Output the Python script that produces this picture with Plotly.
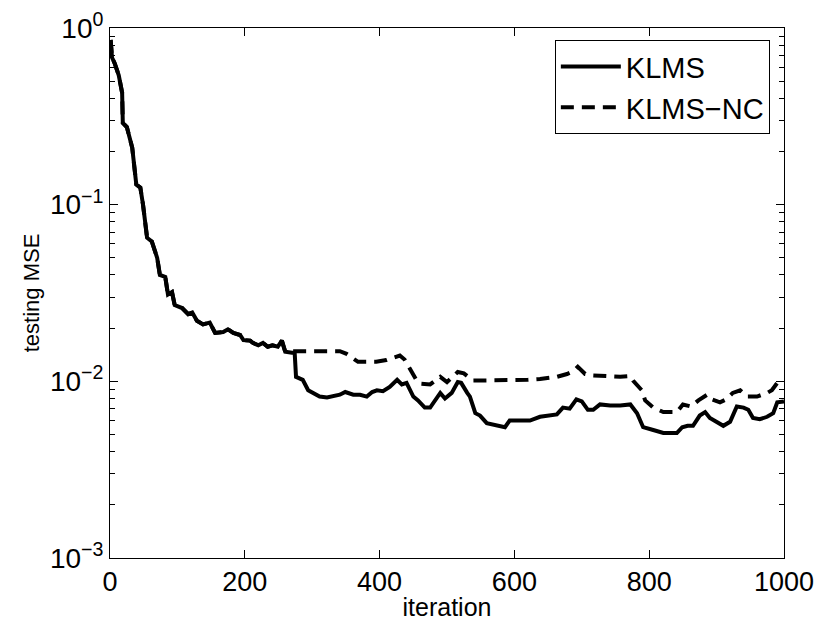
import plotly.graph_objects as go

# ---- data ----
klms_iter = [1, 3, 7, 13, 18, 19, 25, 33, 39, 45, 49, 55, 62, 70, 74, 82, 86, 92, 96, 107,
             116, 122, 129, 138, 148, 156, 168, 175, 183, 193, 198, 208, 212, 220, 227, 234,
             241, 249, 255, 260, 270, 274, 276, 286, 294, 301, 311, 322, 331, 341, 349, 361,
             371, 381, 389, 396, 405, 415, 426, 433, 440, 450, 457, 467, 475, 482, 490, 497,
             507, 516, 521, 530, 534, 542, 549, 559, 574, 586, 593, 608, 623, 638, 653, 663,
             672, 682, 692, 700, 709, 717, 727, 742, 757, 772, 782, 791, 806, 821, 841, 849,
             857, 865, 875, 883, 890, 900, 910, 920, 930, 940, 947, 954, 964, 975, 984, 990, 1000]
klms_mse = [0.855, 0.68, 0.63, 0.54, 0.43, 0.29, 0.275, 0.21, 0.13, 0.125, 0.10, 0.065, 0.062,
            0.050, 0.040, 0.039, 0.031, 0.032, 0.027, 0.026,
            0.024, 0.0245, 0.022, 0.021, 0.0215, 0.0188, 0.019, 0.0197, 0.0188, 0.0183, 0.0171,
            0.0170, 0.0165, 0.0160, 0.0165, 0.0157,
            0.0160, 0.0157, 0.0170, 0.0147, 0.0145, 0.0145, 0.0106, 0.0102, 0.0089, 0.0086,
            0.0082, 0.0081, 0.0082, 0.0084, 0.0087, 0.0084,
            0.0084, 0.0082, 0.0087, 0.0089, 0.0088, 0.0093, 0.0102, 0.0096, 0.0098, 0.0082,
            0.0078, 0.0071, 0.0071, 0.0078, 0.0086, 0.0080,
            0.0086, 0.0099, 0.0098, 0.0086, 0.0082, 0.0066, 0.0064, 0.0058, 0.0056, 0.0055,
            0.0060, 0.0060, 0.0060, 0.0063, 0.0064, 0.0065,
            0.0071, 0.0070, 0.0079, 0.0077, 0.0069, 0.0069, 0.0074, 0.0073, 0.0073, 0.0074,
            0.0066, 0.0055, 0.0053, 0.0051, 0.0051, 0.0055,
            0.0056, 0.0056, 0.0064, 0.0067, 0.0062, 0.0059, 0.0056, 0.0059, 0.0072, 0.0071,
            0.0069, 0.0062, 0.0061, 0.0063, 0.0066, 0.0076, 0.0077]

nc_iter = [1, 3, 7, 13, 18, 19, 25, 33, 39, 45, 49, 55, 62, 70, 74, 82, 86, 92, 96, 107,
           116, 122, 129, 138, 148, 156, 168, 175, 183, 193, 198, 208, 212, 220, 227, 234,
           241, 249, 255, 260, 270, 274, 300, 341, 351, 368, 381, 395, 410, 420, 430, 437,
           448, 455, 460, 475, 490, 500, 516, 525, 539, 560, 590, 608, 620, 638, 663, 678,
           687, 694, 705, 717, 740, 757, 772, 776, 789, 794, 806, 821, 841, 850, 862, 873,
           886, 893, 905, 914, 924, 935, 945, 960, 975, 982, 990, 1000]
nc_mse = [0.855, 0.68, 0.63, 0.54, 0.43, 0.29, 0.275, 0.21, 0.13, 0.125, 0.10, 0.065, 0.062,
          0.050, 0.040, 0.039, 0.031, 0.032, 0.027, 0.026,
          0.024, 0.0245, 0.022, 0.021, 0.0215, 0.0188, 0.019, 0.0197, 0.0188, 0.0183, 0.0171,
          0.0170, 0.0165, 0.0160, 0.0165, 0.0157,
          0.0160, 0.0157, 0.0170, 0.0147, 0.0148, 0.0148, 0.0148, 0.0148, 0.0143, 0.0129,
          0.0129, 0.0129, 0.0132, 0.0136, 0.0140, 0.0133,
          0.0114, 0.0101, 0.0097, 0.0096, 0.0106, 0.0099, 0.0113, 0.0111, 0.0101, 0.0101,
          0.0101, 0.0101, 0.0102, 0.0103, 0.0106, 0.0110,
          0.0114, 0.0121, 0.0110, 0.0108, 0.0107, 0.0106, 0.0107, 0.0101, 0.0089, 0.0078,
          0.0071, 0.0067, 0.0067, 0.0074, 0.0072, 0.0078,
          0.0084, 0.0079, 0.0076, 0.0079, 0.0086, 0.0089, 0.0082, 0.0082, 0.0086, 0.0089,
          0.0098, 0.0101]

x_ticks = [0, 200, 400, 600, 800, 1000]
y_exponents = [-3, -2, -1, 0]

FONT = "Liberation Sans, Arial, sans-serif"

fig = go.Figure()
fig.add_trace(go.Scatter(x=klms_iter, y=klms_mse, mode="lines", name="KLMS",
                         line=dict(color="black", width=4)))
fig.add_trace(go.Scatter(x=nc_iter, y=nc_mse, mode="lines", name="KLMS\u2212NC",
                         line=dict(color="black", width=4, dash="13px,8px")))

minor_vals = [m * 10 ** e for e in y_exponents[:-1] for m in range(2, 10)]

fig.update_layout(
    width=820, height=630,
    margin=dict(l=110, r=36, t=28, b=72),
    paper_bgcolor="white", plot_bgcolor="white",
    font=dict(family=FONT, color="black", size=26),
    showlegend=True,
    legend=dict(x=0.979, y=0.977, xanchor="right", yanchor="top",
                bgcolor="white", bordercolor="black", borderwidth=1,
                font=dict(family=FONT, size=29), tracegroupgap=0,
                itemwidth=60),
    xaxis=dict(range=[0, 1000], tickvals=x_ticks, ticktext=[str(v) for v in x_ticks],
               ticks="inside", ticklen=8, tickwidth=1, tickcolor="black",
               showline=True, linecolor="black", linewidth=1, mirror="allticks",
               showgrid=False, zeroline=False, automargin=False,
               tickfont=dict(family=FONT, size=27),
               title=dict(text="iteration", font=dict(family=FONT, size=25), standoff=2)),
    yaxis=dict(type="log", range=[-3, 0],
               tickvals=[10 ** e for e in y_exponents],
               ticktext=["10<sup>%d</sup>" % e if e == 0 else "10<sup>\u2212%d</sup>" % (-e) for e in y_exponents],
               ticks="inside", ticklen=8, tickwidth=1, tickcolor="black",
               minor=dict(tickvals=minor_vals, ticks="inside", ticklen=5, tickcolor="black", showgrid=False),
               showline=True, linecolor="black", linewidth=1, mirror="allticks",
               showgrid=False, zeroline=False, automargin=False,
               tickfont=dict(family=FONT, size=28),
               title=dict(text="testing MSE", font=dict(family=FONT, size=22), standoff=4)),
)

fig.write_html("out.html")
